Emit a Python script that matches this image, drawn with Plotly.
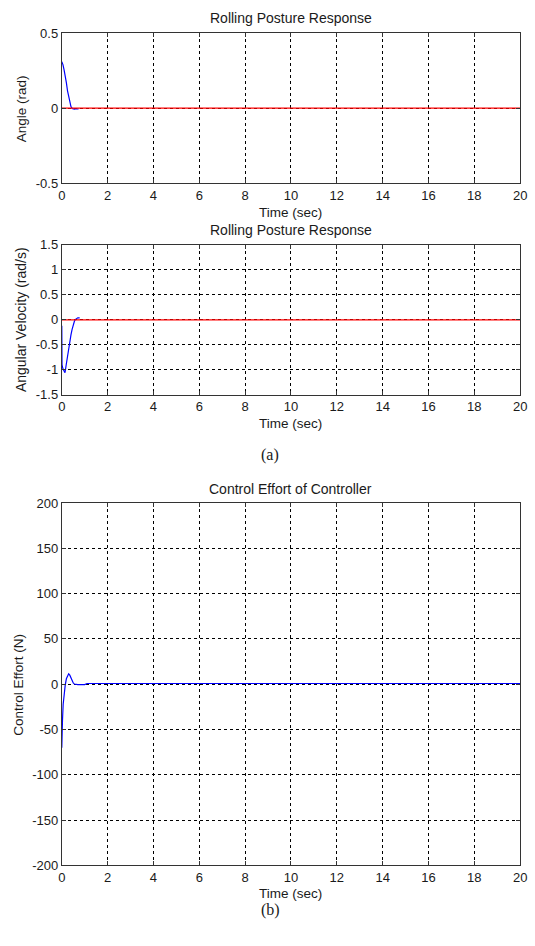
import plotly.graph_objects as go

# ---- data -------------------------------------------------------------
# Roll angle response (rad)
angle_t = [0.0, 0.05, 0.1, 0.15, 0.2, 0.25, 0.3, 0.35, 0.4, 0.45, 0.5, 0.55, 0.6, 0.65, 0.7, 0.73]
angle_v = [0.31, 0.29, 0.255, 0.22, 0.17, 0.115, 0.07, 0.035, 0.01, -0.002, -0.006, -0.007, -0.006, -0.005, -0.005, -0.005]

# Roll angular velocity response (rad/s)
vel_t = [0.0, 0.005, 0.01, 0.05, 0.1, 0.14, 0.2, 0.25, 0.3, 0.35, 0.4, 0.45, 0.5, 0.55, 0.6, 0.65, 0.7, 0.78]
vel_v = [-0.12, -0.6, -0.9, -0.98, -1.04, -1.06, -0.88, -0.72, -0.57, -0.43, -0.3, -0.19, -0.1, -0.03, 0.01, 0.03, 0.04, 0.04]

# Control effort (N)
ctrl_t = [0.0, 0.005, 0.03, 0.06, 0.1, 0.15, 0.2, 0.25, 0.3, 0.35, 0.4, 0.45, 0.5, 0.55, 0.6, 0.7, 0.8, 1.0, 1.1, 20.0]
ctrl_v = [-70, -48, -40, -22, -10, -1, 6, 10, 11.5, 10, 7, 4, 1.5, 0.2, -0.3, -0.5, -0.4, -0.4, 0.8, 0.8]

# Reference (desired) posture
ref_t = [0, 20]
ref_v = [0, 0]

# Axis ticks
time_ticks = [0, 2, 4, 6, 8, 10, 12, 14, 16, 18, 20]
angle_ticks = [-0.5, 0, 0.5]
angle_ticktext = ["-0.5", "0", "0.5"]
vel_ticks = [-1.5, -1, -0.5, 0, 0.5, 1, 1.5]
vel_ticktext = ["-1.5", "-1", "-0.5", "0", "0.5", "1", "1.5"]
ctrl_ticks = [-200, -150, -100, -50, 0, 50, 100, 150, 200]
ctrl_ticktext = ["-200", "-150", "-100", "-50", "0", "50", "100", "150", "200"]

# ---- layout helpers ---------------------------------------------------
W, H = 535, 946
SANS = "Liberation Sans, Arial, Helvetica, sans-serif"
SERIF = "Liberation Serif, Times New Roman, serif"
TXT = "#1a1a1a"


def px_x(x):
    return x / W


def px_y(y):
    return 1 - y / H


X0, X1 = 59, 527
panels = [  # (top px, bottom px)
    (26.5, 179.0),
    (241.7, 394.0),
    (504.0, 872.3),
]

fig = go.Figure()

BLUE = "#0000ff"
RED = "#ff0000"

fig.add_trace(go.Scatter(x=angle_t, y=angle_v, mode="lines", line=dict(color=BLUE, width=1.2),
                         xaxis="x", yaxis="y", showlegend=False))
fig.add_trace(go.Scatter(x=ref_t, y=ref_v, mode="lines", line=dict(color=RED, width=1.2),
                         xaxis="x", yaxis="y", showlegend=False))
fig.add_trace(go.Scatter(x=vel_t, y=vel_v, mode="lines", line=dict(color=BLUE, width=1.2),
                         xaxis="x2", yaxis="y2", showlegend=False))
fig.add_trace(go.Scatter(x=ref_t, y=ref_v, mode="lines", line=dict(color=RED, width=1.2),
                         xaxis="x2", yaxis="y2", showlegend=False))
fig.add_trace(go.Scatter(x=ctrl_t, y=ctrl_v, mode="lines", line=dict(color=BLUE, width=1.2),
                         xaxis="x3", yaxis="y3", showlegend=False))

common_axis = dict(
    showline=True, linecolor="#333333", linewidth=1, mirror="ticks",
    ticks="inside", ticklen=4, tickcolor="#333333",
    showgrid=True, gridcolor="#000000", gridwidth=1, griddash="3px,3px",
    zeroline=False,
    tickfont=dict(family=SANS, size=13, color=TXT),
)

yranges = [[-0.5, 0.5], [-1.5, 1.5], [-200, 200]]
yticks = [(angle_ticks, angle_ticktext), (vel_ticks, vel_ticktext), (ctrl_ticks, ctrl_ticktext)]

layout_axes = {}
for i, ((top, bot), yr, (tv, tt)) in enumerate(zip(panels, yranges, yticks)):
    sfx = "" if i == 0 else str(i + 1)
    layout_axes["xaxis" + sfx] = dict(
        common_axis, domain=[px_x(X0), px_x(X1)], range=[0, 20],
        tickvals=time_ticks, ticktext=[str(v) for v in time_ticks],
        anchor="y" + sfx,
    )
    layout_axes["yaxis" + sfx] = dict(
        common_axis, domain=[px_y(bot), px_y(top)], range=yr,
        tickvals=tv, ticktext=tt, anchor="x" + sfx,
    )

fig.update_layout(
    width=W, height=H,
    margin=dict(l=0, r=0, t=0, b=0),
    paper_bgcolor="white", plot_bgcolor="white",
    **layout_axes,
)


def label(text, x, y, size=13.5, angle=0, family=SANS):
    fig.add_annotation(text=text, x=px_x(x), y=px_y(y), xref="paper", yref="paper",
                       showarrow=False, textangle=angle, xanchor="center", yanchor="middle",
                       font=dict(family=family, size=size, color=TXT))


cx = (X0 + X1) / 2
# panel titles
label("Rolling Posture Response", cx, 11.5, size=14)
label("Rolling Posture Response", cx, 226.7, size=14)
label("Control Effort of Controller", cx, 489.3, size=14)
# x-axis titles
label("Time (sec)", cx, 209.3)
label("Time (sec)", cx, 423.3)
label("Time (sec)", cx, 900.5)
# y-axis titles
label("Angle (rad)", 18, 103.3, angle=-90)
label("Angular Velocity (rad/s)", 18, 317.5, size=14, angle=-90)
label("Control Effort (N)", 14, 689, angle=-90)
# sub-figure captions
label("(a)", 272, 455, size=16, family=SERIF)
label("(b)", 272, 918, size=16, family=SERIF)

fig.write_html(
    "out.html",
    post_script="document.body.style.margin='0';document.body.style.overflow='hidden';",
)
